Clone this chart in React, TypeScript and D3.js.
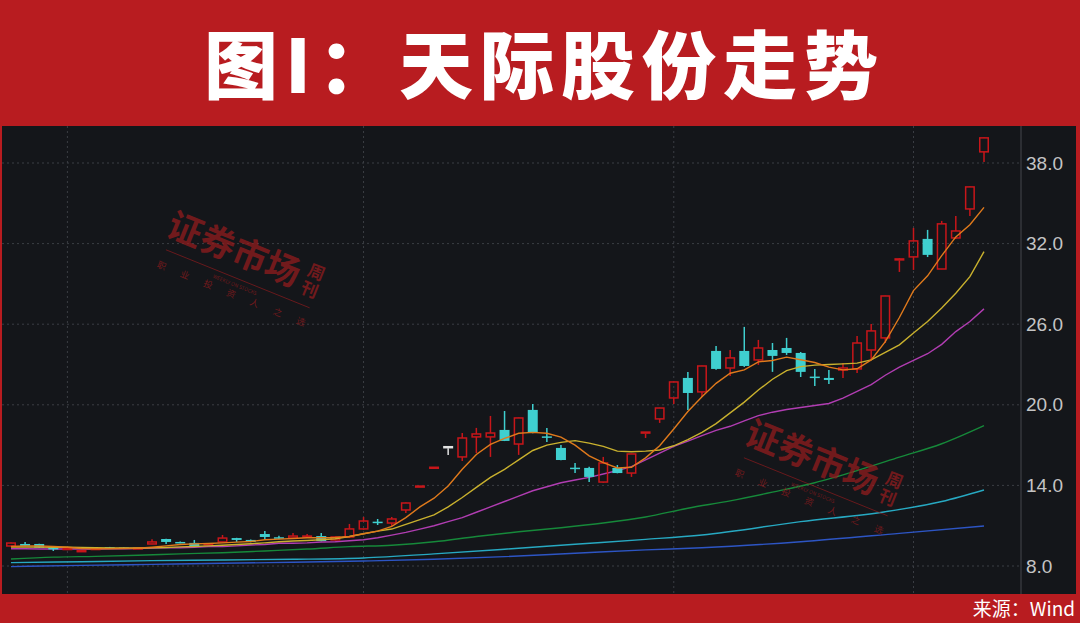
import React from 'react';
import * as d3 from 'd3';

const W = 1080;
const H = 623;

// ---- Candles (daily OHLC) ----
const candleOpen = [
  9.49, 9.64, 9.64, 9.35, 9.2, 9.12, 9.28, 9.4, 9.38, 9.28,
  9.64, 10.01, 9.79, 9.72, 9.6, 9.79, 10.08, 9.94, 10.38, 10.14,
  10.08, 10.16, 10.23, 9.94, 10.16, 10.76, 11.3, 11.2, 12.17, 13.95,
  15.35, 16.88, 16.12, 17.61, 17.61, 18.13, 17.08, 19.62, 17.65, 16.79,
  15.32, 15.3, 14.25, 15.3, 14.92, 17.97, 18.95, 20.51, 22.0, 20.96,
  24.01, 22.74, 24.01, 23.34, 24.08, 24.23, 23.86, 22.1, 22.0, 22.59,
  22.67, 24.08, 24.98, 30.78, 31.01, 32.35, 30.11, 32.42, 34.58, 38.83,
];
const candleHigh = [
  9.75, 9.79, 9.66, 9.42, 9.32, 9.18, 9.36, 9.42, 9.4, 9.36,
  10.0, 10.02, 9.82, 9.94, 9.7, 10.31, 10.1, 9.97, 10.61, 10.25,
  10.46, 10.38, 10.46, 10.2, 11.13, 11.65, 11.5, 11.65, 12.72, 13.95,
  15.35, 16.88, 17.9, 18.28, 19.17, 19.54, 19.05, 20.06, 18.28, 17.01,
  15.67, 15.38, 16.12, 15.52, 16.36, 17.97, 19.78, 21.72, 22.45, 22.9,
  24.38, 24.08, 25.8, 24.83, 24.6, 24.98, 23.93, 22.67, 22.59, 23.12,
  25.13, 26.02, 28.12, 30.92, 33.17, 33.02, 33.69, 34.06, 36.25, 39.9,
];
const candleLow = [
  9.45, 9.48, 9.34, 9.12, 9.18, 9.04, 9.25, 9.28, 9.28, 9.26,
  9.62, 9.64, 9.7, 9.45, 9.55, 9.77, 9.79, 9.77, 10.01, 10.0,
  10.05, 10.12, 9.84, 9.9, 10.1, 10.7, 11.05, 10.98, 11.95, 13.95,
  15.35, 16.27, 15.82, 16.41, 16.12, 17.3, 16.27, 17.88, 17.23, 15.87,
  14.92, 14.25, 14.2, 14.9, 14.63, 17.53, 18.65, 20.06, 19.62, 20.58,
  22.6, 22.15, 22.82, 22.97, 22.45, 23.71, 22.07, 21.4, 21.55, 22.0,
  22.37, 23.41, 24.6, 29.89, 30.04, 31.0, 30.1, 32.35, 34.06, 38.08,
];
const candleClose = [
  9.71, 9.5, 9.36, 9.33, 9.3, 9.14, 9.3, 9.3, 9.3, 9.34,
  9.79, 9.79, 9.71, 9.48, 9.65, 10.08, 9.94, 9.79, 10.16, 10.08,
  10.23, 10.23, 9.86, 10.16, 10.76, 11.35, 11.26, 11.5, 12.69, 13.95,
  15.35, 16.88, 17.53, 17.83, 17.9, 17.31, 19.02, 17.9, 17.6, 15.89,
  15.28, 14.63, 15.67, 14.92, 16.34, 17.97, 19.76, 21.7, 20.88, 22.89,
  22.67, 23.49, 22.89, 24.23, 23.64, 23.86, 22.45, 22.05, 21.85, 22.74,
  24.6, 25.5, 28.1, 30.86, 32.2, 31.16, 33.47, 32.94, 36.22, 39.87,
];
// limit-up boards drawn red, plain doji drawn white
const limitUpFlat = [29, 30, 45];
const whiteDoji = [31];

// ---- Moving averages ----
const ma5 = [
  9.45, 9.5, 9.5, 9.45, 9.4, 9.3, 9.28, 9.28, 9.3, 9.32,
  9.4, 9.5, 9.6, 9.65, 9.68, 9.72, 9.78, 9.82, 9.95, 10.0,
  10.05, 10.1, 10.1, 10.12, 10.2, 10.4, 10.6, 10.95, 11.6, 12.4,
  13.05, 13.95, 15.2, 16.3, 17.05, 17.5, 17.88, 17.95, 17.88, 17.6,
  17.0, 16.2, 15.7, 15.3, 15.35, 16.05, 16.95, 18.2, 19.5, 20.6,
  21.6, 22.35, 22.6, 23.2, 23.3, 23.55, 23.35, 23.15, 22.8, 22.6,
  22.68, 23.34, 24.7, 26.5, 28.5, 29.6, 31.1, 32.5, 33.4, 34.7,
];
const ma10 = [
  9.42, 9.42, 9.42, 9.4, 9.4, 9.38, 9.36, 9.35, 9.35, 9.34,
  9.35, 9.38, 9.42, 9.45, 9.5, 9.55, 9.6, 9.66, 9.72, 9.8,
  9.86, 9.9, 9.95, 10.03, 10.2, 10.4, 10.6, 10.75, 11.1, 11.45,
  11.8, 12.4, 13.1, 13.85, 14.6, 15.2, 15.9, 16.6, 17.0, 17.2,
  17.33, 17.15, 16.9, 16.55, 16.5, 16.55, 16.64, 16.95, 17.4, 17.95,
  18.6, 19.4, 20.2, 21.1, 21.9, 22.55, 22.84, 22.95, 23.0, 23.05,
  23.1, 23.34, 23.9, 24.46, 25.35, 26.2, 27.2, 28.3, 29.54, 31.4,
];
const ma20 = [
  9.28, 9.28, 9.27, 9.27, 9.26, 9.26, 9.27, 9.28, 9.28, 9.3,
  9.33, 9.36, 9.36, 9.4, 9.44, 9.44, 9.5, 9.56, 9.6, 9.69,
  9.69, 9.72, 9.79, 9.8, 9.88, 9.95, 10.1, 10.3, 10.5, 10.75,
  11.0, 11.3, 11.6, 12.0, 12.4, 12.8, 13.2, 13.6, 13.9, 14.2,
  14.4, 14.6, 14.85, 15.1, 15.4, 15.9, 16.4, 16.9, 17.3, 17.7,
  18.1, 18.4, 18.8, 19.2, 19.45, 19.65, 19.8, 19.95, 20.1, 20.5,
  21.0, 21.5, 22.2, 22.8, 23.3, 23.8, 24.5, 25.45, 26.2, 27.14,
];
const ma60Idx = [0, 3, 6, 9, 12, 15, 18, 21, 24, 27, 30, 33, 36, 39, 42, 45, 48, 51, 54, 57, 60, 63, 66, 69];
const ma60 = [8.52, 8.66, 8.72, 8.8, 8.9, 8.99, 9.12, 9.26, 9.44, 9.55, 9.8, 10.2, 10.55, 10.85, 11.2, 11.65, 12.3, 12.85, 13.5, 14.2, 15.1, 16.1, 17.1, 18.45];
const ma120Idx = [0, 5, 10, 15, 20, 25, 30, 35, 40, 45, 49, 56, 62, 66, 69];
const ma120 = [8.25, 8.32, 8.4, 8.45, 8.5, 8.6, 8.9, 9.25, 9.62, 9.98, 10.31, 11.3, 12.04, 12.8, 13.66];
const ma250Idx = [0, 5, 10, 15, 20, 25, 30, 35, 40, 45, 49, 56, 63, 69];
const ma250 = [7.95, 8.05, 8.12, 8.2, 8.28, 8.37, 8.5, 8.7, 8.95, 9.2, 9.36, 9.81, 10.43, 10.98];

const yTicks = [8, 14, 20, 26, 32, 38];
const monthStartIdx = [4, 25, 47, 64];

const COLORS = {
  up: '#c8161a',
  down: '#3fcfcf',
  doji: '#e2e2e2',
  ma5: '#e07a1c',
  ma10: '#c9b12e',
  ma20: '#b13db2',
  ma60: '#16893a',
  ma120: '#27a9c2',
  ma250: '#2d55c4',
  banner: '#b81c20',
  bg: '#14161a',
  grid: '#3b3e44',
};

function Watermark({ cx, cy }: { cx: number; cy: number }) {
  const small = ['职', '业', '投', '资', '人', '之', '选'];
  return (
    <g transform={`translate(${cx},${cy}) rotate(22)`} opacity={0.72} fill="#961c1e"
       fontFamily="'Noto Sans CJK SC', sans-serif">
      <text x={-18} y={0} fontSize={35} fontWeight={700} dominantBaseline="central">证券市场</text>
      <text x={137} y={-8} fontSize={17} fontWeight={700} textAnchor="middle" dominantBaseline="central">周</text>
      <text x={137} y={11} fontSize={17} fontWeight={700} textAnchor="middle" dominantBaseline="central">刊</text>
      <line x1={-11} y1={29} x2={144} y2={29} stroke="#961c1e" strokeWidth={0.8} />
      <text x={66} y={35} fontSize={5} textAnchor="middle" dominantBaseline="central">WEEKLY ON STOCKS</text>
      {small.map((c, k) => (
        <text key={k} x={-9 + k * 25} y={45} fontSize={9} textAnchor="middle" dominantBaseline="central">{c}</text>
      ))}
    </g>
  );
}

export default function App() {
  const idx = d3.range(candleClose.length);
  const x = d3.scalePoint<number>().domain(idx).range([11, 984]);
  const y = d3.scaleLinear().domain([8, 38]).range([566, 163]);
  const plotTop = 126;
  const plotBottom = 594;
  const axisX = 1021;
  const bodyW = 10;

  const lineDense = d3.line<number>().x((_, i) => x(i) as number).y((v) => y(v));
  const lineSparse = (ids: number[]) =>
    d3.line<number>().x((_, i) => x(ids[i]) as number).y((v) => y(v)).curve(d3.curveMonotoneX);

  const candles = idx.map((i) => {
    const o = candleOpen[i], h = candleHigh[i], l = candleLow[i], c = candleClose[i];
    const cxp = x(i) as number;
    const top = y(Math.max(o, c));
    const bot = y(Math.min(o, c));
    const isWhite = whiteDoji.includes(i);
    const isFlatUp = limitUpFlat.includes(i);
    const up = c > o || isFlatUp;
    const color = isWhite ? COLORS.doji : up ? COLORS.up : COLORS.down;
    const bh = Math.max(bot - top, 1.5);
    if (up || isWhite) {
      return (
        <g key={i} stroke={color} strokeWidth={1.5} fill="none">
          <line x1={cxp} x2={cxp} y1={y(h)} y2={top} />
          <line x1={cxp} x2={cxp} y1={top + bh} y2={Math.max(y(l), top + bh)} />
          {bot - top > 2 ? (
            <rect x={cxp - bodyW / 2 + 0.75} y={top} width={bodyW - 1.5} height={bh} />
          ) : (
            <line x1={cxp - bodyW / 2} x2={cxp + bodyW / 2} y1={top + 0.5} y2={top + 0.5} strokeWidth={2.5} />
          )}
        </g>
      );
    }
    return (
      <g key={i}>
        <line x1={cxp} x2={cxp} y1={y(h)} y2={y(l)} stroke={color} strokeWidth={1.5} />
        <rect x={cxp - bodyW / 2} y={top} width={bodyW} height={bh} fill={color} />
      </g>
    );
  });

  return (
    <svg width={W} height={H} style={{ position: 'fixed', left: 0, top: 0, display: 'block' }}>
      {/* frame */}
      <rect x={0} y={0} width={W} height={H} fill={COLORS.banner} />
      <rect x={2} y={plotTop} width={1074} height={plotBottom - plotTop} fill={COLORS.bg} />
      <text x={204} y={93} fill="#ffffff" fontSize={74} fontWeight={900}
            fontFamily="'Noto Sans CJK SC', sans-serif" textLength={674} lengthAdjust="spacing">图I：天际股份走势</text>

      {/* grid */}
      {yTicks.map((t) => (
        <line key={t} x1={2} x2={axisX} y1={y(t)} y2={y(t)} stroke={COLORS.grid} strokeWidth={1} strokeDasharray="2,3" />
      ))}
      {monthStartIdx.map((m) => (
        <line key={m} x1={x(m)} x2={x(m)} y1={plotTop} y2={plotBottom} stroke={COLORS.grid} strokeWidth={1} strokeDasharray="2,3" />
      ))}
      <line x1={axisX} x2={axisX} y1={plotTop} y2={plotBottom} stroke="#34373c" strokeWidth={1.5} />
      {yTicks.map((t) => (
        <text key={t} x={1026} y={y(t)} fill="#c4c4c4" fontSize={19} dominantBaseline="central"
              fontFamily="'Liberation Sans', Arial, sans-serif">{t.toFixed(1)}</text>
      ))}

      {/* moving averages */}
      <g fill="none" strokeWidth={1.4}>
        <path d={lineSparse(ma250Idx)(ma250) || ''} stroke={COLORS.ma250} />
        <path d={lineSparse(ma120Idx)(ma120) || ''} stroke={COLORS.ma120} />
        <path d={lineSparse(ma60Idx)(ma60) || ''} stroke={COLORS.ma60} />
        <path d={lineDense(ma20) || ''} stroke={COLORS.ma20} />
      </g>

      {candles}

      <g fill="none" strokeWidth={1.4}>
        <path d={lineDense(ma10) || ''} stroke={COLORS.ma10} />
        <path d={lineDense(ma5) || ''} stroke={COLORS.ma5} />
      </g>

      <Watermark cx={187} cy={227} />
      <Watermark cx={765} cy={435} />

      <text x={1075} y={616} fill="#ffffff" fontSize={19} textAnchor="end"
            fontFamily="'Noto Sans CJK SC', sans-serif">来源：Wind</text>
    </svg>
  );
}
